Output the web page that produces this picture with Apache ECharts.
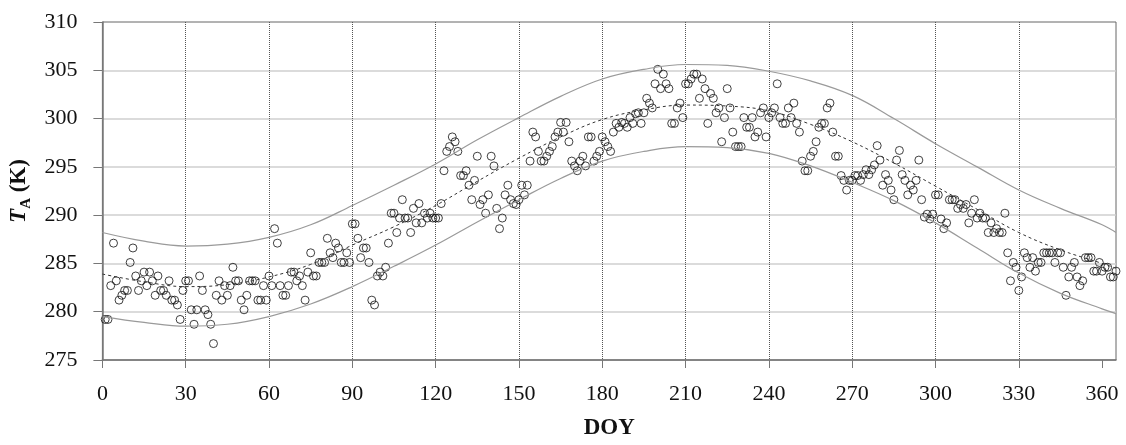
<!DOCTYPE html>
<html>
<head>
<meta charset="utf-8">
<title>TA vs DOY</title>
<script src="https://cdn.jsdelivr.net/npm/echarts@6/dist/echarts.min.js"></script>
<style>
  html, body { margin: 0; padding: 0; background: #fff; }
  #chart { width: 1126px; height: 445px; }
</style>
</head>
<body>
<div id="chart"></div>
<script>
  // observed air temperature (K), one value per day starting at DOY 1
  const firstDay = 1
  const tempK = [
    279.2, 279.2, 282.7, 287.1, 283.2, 281.2, 281.7, 282.2, 282.2, 285.1,
    286.6, 283.7, 282.2, 283.2, 284.1, 282.7, 284.1, 283.2, 281.7, 283.7,
    282.2, 282.2, 281.7, 283.2, 281.2, 281.2, 280.7, 279.2, 282.2, 283.2,
    283.2, 280.2, 278.7, 280.2, 283.7, 282.2, 280.2, 279.7, 278.7, 276.7,
    281.7, 283.2, 281.2, 282.7, 281.7, 282.7, 284.6, 283.2, 283.2, 281.2,
    280.2, 281.7, 283.2, 283.2, 283.2, 281.2, 281.2, 282.7, 281.2, 283.7,
    282.7, 288.6, 287.1, 282.7, 281.7, 281.7, 282.7, 284.1, 284.1, 283.2,
    283.7, 282.7, 281.2, 284.1, 286.1, 283.7, 283.7, 285.1, 285.1, 285.1,
    287.6, 286.1, 285.6, 287.1, 286.6, 285.1, 285.1, 286.1, 285.1, 289.1,
    289.1, 287.6, 285.6, 286.6, 286.6, 285.1, 281.2, 280.7, 283.7, 284.1,
    283.7, 284.6, 287.1, 290.2, 290.2, 288.2, 289.7, 291.6, 289.7, 289.7,
    288.2, 290.7, 289.2, 291.2, 289.2, 290.2, 289.7, 290.2, 289.7, 289.7,
    289.7, 291.2, 294.6, 296.6, 297.1, 298.1, 297.6, 296.6, 294.1, 294.1,
    294.6, 293.1, 291.6, 293.6, 296.1, 291.1, 291.6, 290.2, 292.1, 296.1,
    295.1, 290.7, 288.6, 289.7, 292.1, 293.1, 291.6, 291.2, 291.1, 291.6,
    293.1, 292.1, 293.1, 295.6, 298.6, 298.1, 296.6, 295.6, 295.6, 296.1,
    296.6, 297.1, 298.1, 298.6, 299.6, 298.6, 299.6, 297.6, 295.6, 295.1,
    294.6, 295.6, 296.1, 295.1, 298.1, 298.1, 295.6, 296.1, 296.6, 298.1,
    297.6, 297.1, 296.6, 298.6, 299.5, 299.1, 299.6, 299.5, 299.1, 300.1,
    299.5, 300.5, 300.6, 299.5, 300.6, 302.1, 301.6, 301.1, 303.6, 305.1,
    303.1, 304.6, 303.6, 303.1, 299.5, 299.5, 301.1, 301.6, 300.1, 303.6,
    303.6, 304.1, 304.6, 304.6, 302.1, 304.1, 303.1, 299.5, 302.6, 302.1,
    300.6, 301.1, 297.6, 300.1, 303.1, 301.1, 298.6, 297.1, 297.1, 297.1,
    300.1, 299.1, 299.1, 300.1, 298.1, 298.6, 300.6, 301.1, 298.1, 300.1,
    300.6, 301.1, 303.6, 300.1, 299.5, 299.5, 301.1, 300.1, 301.6, 299.5,
    298.6, 295.6, 294.6, 294.6, 296.1, 296.6, 297.6, 299.1, 299.5, 299.5,
    301.1, 301.6, 298.6, 296.1, 296.1, 294.1, 293.6, 292.6, 293.6, 293.6,
    294.1, 294.1, 293.6, 294.2, 294.7, 294.2, 294.7, 295.2, 297.2, 295.7,
    293.1, 294.2, 293.6, 292.6, 291.6, 295.7, 296.7, 294.2, 293.6, 292.1,
    293.1, 292.6, 293.6, 295.7, 291.6, 289.8, 290.1, 289.6, 290.1, 292.1,
    292.1, 289.6, 288.6, 289.2, 291.6, 291.6, 291.6, 290.7, 291.1, 290.7,
    291.1, 289.2, 290.2, 291.6, 289.7, 290.2, 289.7, 289.7, 288.2, 289.2,
    288.2, 288.6, 288.2, 288.2, 290.2, 286.1, 283.2, 285.1, 284.6, 282.2,
    283.6, 286.1, 285.6, 284.6, 285.6, 284.2, 285.1, 285.1, 286.1, 286.1,
    286.1, 286.1, 285.1, 286.1, 286.1, 284.6, 281.7, 283.6, 284.6, 285.1,
    283.6, 282.7, 283.2, 285.6, 285.6, 285.6, 284.2, 284.2, 285.1, 284.2,
    284.6, 284.6, 283.6, 283.6, 284.2
  ]

  // fitted curve and its band, read every 15 days
  const curveDays = [0, 15, 30, 45, 60, 75, 90, 105, 120, 135, 150, 165, 180,
    195, 210, 225, 240, 255, 270, 285, 300, 315, 330, 345, 360, 365]
  const meanCurve = [283.9, 283.1, 282.6, 282.8, 283.6, 284.9, 286.9, 288.8, 291.0,
    293.5, 295.9, 298.1, 299.9, 300.9, 301.4, 301.3, 300.8, 299.4, 297.6, 295.4,
    293.0, 290.6, 288.2, 286.4, 285.0, 284.5]
  const upperBand = [288.2, 287.3, 286.8, 287.0, 287.7, 289.0, 291.0, 293.1, 295.3,
    297.8, 300.1, 302.3, 304.1, 305.1, 305.6, 305.5, 304.9, 303.9, 302.4, 300.0,
    297.4, 295.0, 292.6, 290.7, 289.0, 288.2]
  const lowerBand = [279.5, 278.9, 278.5, 278.7, 279.5, 280.8, 282.6, 284.7, 286.9,
    289.3, 291.6, 293.8, 295.6, 296.6, 297.1, 297.0, 296.4, 295.1, 293.4, 291.5,
    289.2, 286.6, 284.0, 281.9, 280.3, 279.8]

  const xTicks = [0, 30, 60, 90, 120, 150, 180, 210, 240, 270, 300, 330, 360]

  const font = 'Liberation Serif'

  function pairs(xs, ys) {
    return ys.map((v, i) => [xs[i], v])
  }

  function initChart() {
    const chart = echarts.init(document.getElementById('chart'))
    const obs = tempK.map((v, i) => [firstDay + i, v])

    chart.setOption({
      animation: false,
      grid: {
        left: 98,
        right: 10,
        top: 22,
        bottom: 78,
        show: true,
        borderColor: '#666',
        borderWidth: 1
      },
      xAxis: {
        type: 'value',
        min: 0,
        max: 365,
        interval: 30,
        name: 'DOY',
        nameLocation: 'middle',
        nameGap: 57,
        nameTextStyle: { fontFamily: font, fontSize: 23, fontWeight: 'bold', color: '#111' },
        axisLine: { show: true, lineStyle: { color: '#777', width: 1.5 } },
        axisTick: { show: true, length: 8, customValues: xTicks, lineStyle: { color: '#777' } },
        axisLabel: { customValues: xTicks, fontFamily: font, fontSize: 22, color: '#111', margin: 23 },
        splitLine: {
          show: true,
          showMinLine: false,
          showMaxLine: false,
          lineStyle: { type: 'dotted', color: '#555', width: 1 }
        }
      },
      yAxis: {
        type: 'value',
        min: 275,
        max: 310,
        interval: 5,
        name: '{t|T}{s|A}{k| (K)}',
        nameLocation: 'middle',
        nameGap: 58,
        nameTextStyle: {
          rich: {
            t: { fontFamily: font, fontSize: 23, fontWeight: 'bold', fontStyle: 'italic', color: '#111', lineHeight: 28 },
            s: { fontFamily: font, fontSize: 15, fontWeight: 'bold', color: '#111', verticalAlign: 'bottom', lineHeight: 28 },
            k: { fontFamily: font, fontSize: 23, fontWeight: 'bold', color: '#111', lineHeight: 28 }
          }
        },
        axisLine: { show: true, lineStyle: { color: '#777', width: 1.5 } },
        axisTick: { show: true, length: 9, lineStyle: { color: '#777' } },
        axisLabel: { fontFamily: font, fontSize: 22, color: '#111', margin: 25 },
        splitLine: {
          show: true,
          showMinLine: false,
          showMaxLine: false,
          lineStyle: { color: '#cfcfcf', width: 1.5 }
        }
      },
      series: [
        {
          name: 'upper',
          type: 'line',
          smooth: 0.4,
          showSymbol: false,
          data: pairs(curveDays, upperBand),
          lineStyle: { color: '#9a9a9a', width: 1.2 }
        },
        {
          name: 'lower',
          type: 'line',
          smooth: 0.4,
          showSymbol: false,
          data: pairs(curveDays, lowerBand),
          lineStyle: { color: '#9a9a9a', width: 1.2 }
        },
        {
          name: 'mean',
          type: 'line',
          smooth: 0.4,
          showSymbol: false,
          data: pairs(curveDays, meanCurve),
          lineStyle: { color: '#333', width: 1, type: [3, 3] }
        },
        {
          name: 'TA',
          type: 'scatter',
          symbol: 'circle',
          symbolSize: 8,
          clip: false,
          data: obs,
          itemStyle: { color: 'rgba(0,0,0,0)', borderColor: '#111', borderWidth: 1 }
        }
      ]
    })
  }

  initChart()
</script>
</body>
</html>
